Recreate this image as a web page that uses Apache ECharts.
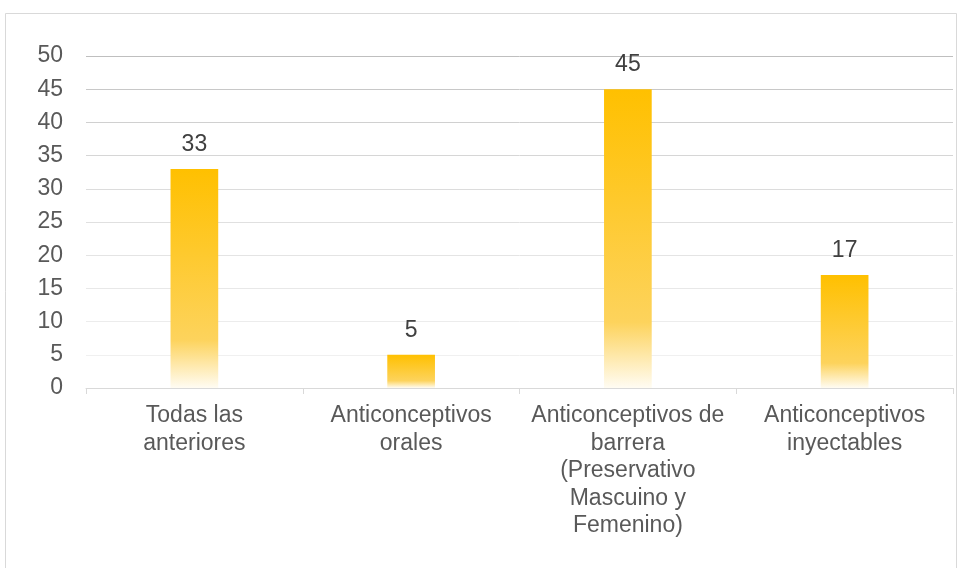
<!DOCTYPE html>
<html>
<head>
<meta charset="utf-8">
<script src="https://cdn.jsdelivr.net/npm/echarts@6/dist/echarts.min.js"></script>
<style>
  html, body { margin: 0; padding: 0; background: #ffffff; }
  #chart { width: 960px; height: 568px; }
</style>
</head>
<body>
<div id="chart"></div>
<script>
// Métodos anticonceptivos conocidos
const categories = [
  'Todas las\nanteriores',
  'Anticonceptivos\norales',
  'Anticonceptivos de\nbarrera\n(Preservativo\nMascuino y\nFemenino)',
  'Anticonceptivos\ninyectables'
];
const values = [33, 5, 45, 17];
const yTicks = { min: 0, max: 50, interval: 5 };

const chart = echarts.init(document.getElementById('chart'), null, { renderer: 'canvas' });

// Gold bars fading to white near the base
const barFill = new echarts.graphic.LinearGradient(0, 0, 0, 1, [
  { offset: 0, color: '#FFC000' },
  { offset: 0.78, color: '#FDD35C' },
  { offset: 1, color: '#FFFCF3' }
]);

const font = '"Liberation Sans", Arial, sans-serif';

chart.setOption({
  animation: false,
  backgroundColor: '#ffffff',
  graphic: [{
    type: 'rect',
    shape: { x: 5.5, y: 13.5, width: 951, height: 600 },
    style: { fill: 'none', stroke: '#D9D9D9', lineWidth: 1 },
    silent: true,
    z: -1
  }],
  grid: { left: 86, right: 7, top: 56, bottom: 180 },
  xAxis: {
    type: 'category',
    data: categories,
    axisLine: { show: true, lineStyle: { color: '#D9D9D9', width: 1 } },
    axisTick: { show: true, length: 6, lineStyle: { color: '#D9D9D9' } },
    axisLabel: {
      interval: 0,
      margin: 14,
      color: '#595959',
      fontFamily: font,
      fontSize: 23,
      lineHeight: 27.5,
      align: 'center'
    },
    splitLine: { show: false }
  },
  yAxis: {
    type: 'value',
    min: yTicks.min,
    max: yTicks.max,
    interval: yTicks.interval,
    axisLine: { show: false },
    axisTick: { show: false },
    axisLabel: {
      color: '#595959',
      fontFamily: font,
      fontSize: 23,
      margin: 23
    },
    splitLine: {
      show: true,
      lineStyle: {
        width: 1,
        color: ['#F2F2F2', '#F0F0F0', '#ECECEC', '#E8E8E8', '#E4E4E4', '#E0E0E0',
                '#DCDCDC', '#D6D6D6', '#D0D0D0', '#C8C8C8', '#BFBFBF']
      }
    }
  },
  series: [{
    type: 'bar',
    data: values,
    barWidth: '22%',
    itemStyle: { color: barFill },
    label: {
      show: true,
      position: 'top',
      distance: 13,
      color: '#404040',
      fontFamily: font,
      fontSize: 23
    }
  }]
});
</script>
</body>
</html>
